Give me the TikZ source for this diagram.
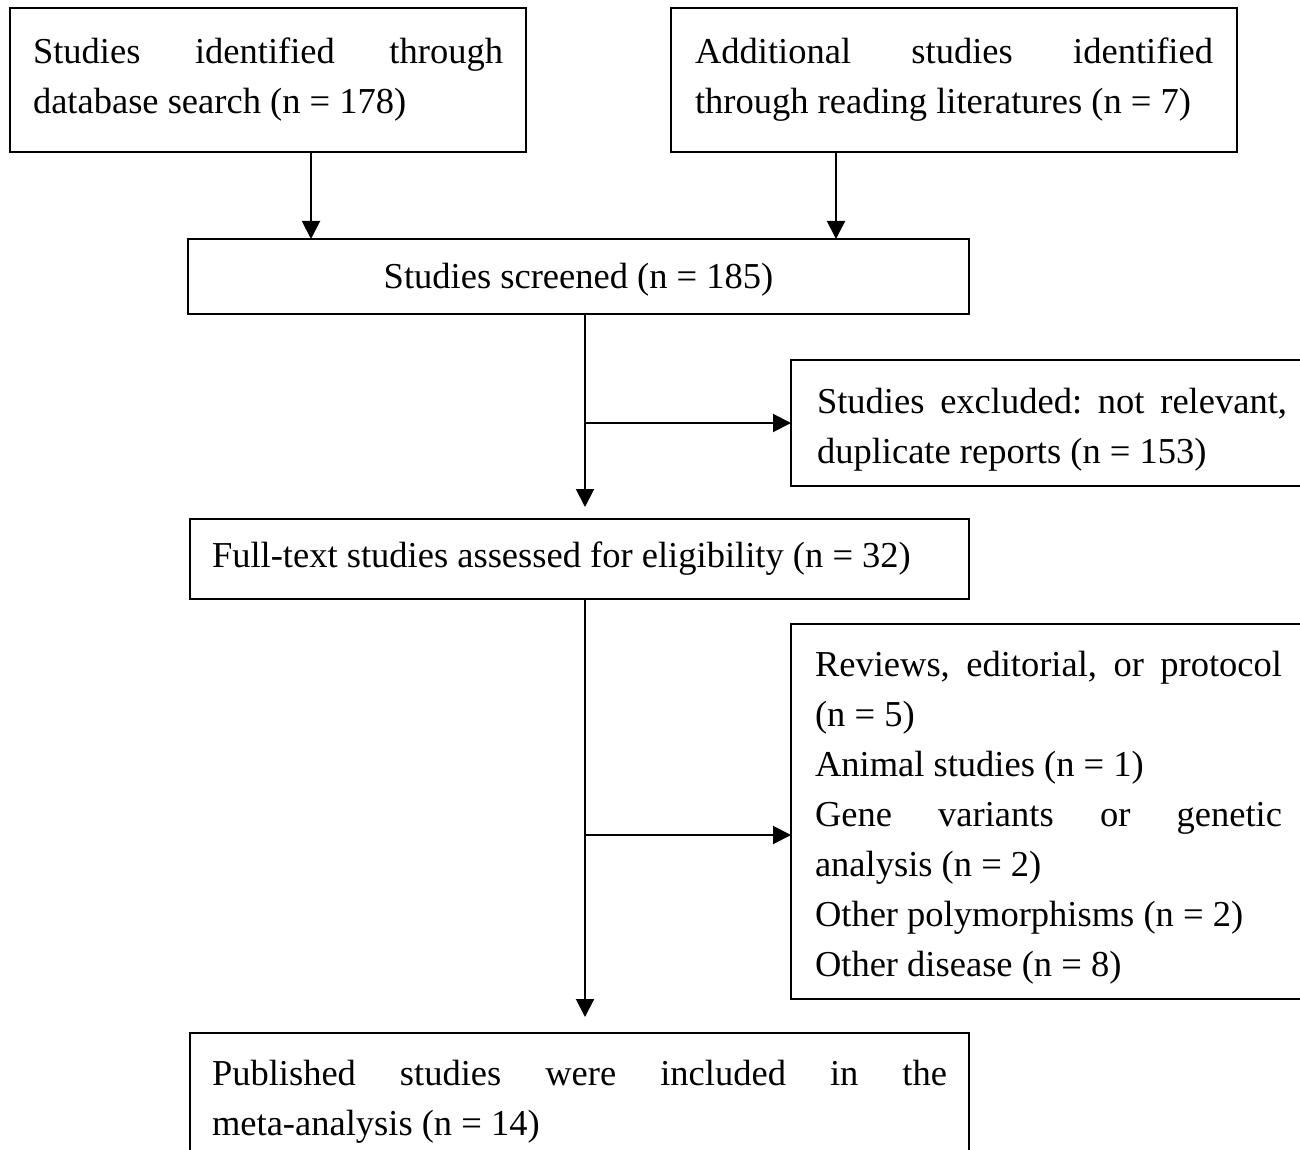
\documentclass[tikz,border=0pt]{standalone}
\usepackage{fontspec}
\setmainfont{Liberation Serif}
\usetikzlibrary{arrows.meta}
\tolerance=10000
\hbadness=10000
\hyphenpenalty=10000
\exhyphenpenalty=10000
\frenchspacing
\newcommand{\toppad}[1]{\rule{0pt}{#1pt}}
\begin{document}
\begin{tikzpicture}[x=1pt,y=-1pt]
\tikzset{
  box/.style={draw, line width=2pt, rectangle, inner ysep=0pt, outer sep=0pt,
    anchor=north west, font=\fontsize{36.5}{50}\selectfont\frenchspacing},
  jbox/.style={box, align=justify},
  arr/.style={line width=2pt, -{Triangle[length=18pt,width=18pt]}}
}
\useasboundingbox (0,0) rectangle (1300,1150);
\clip (0,0) rectangle (1300,1150);
\fill[white] (0,0) rectangle (1300,1150);

\node[jbox, text width=470pt, inner xsep=23pt, minimum height=144pt] (b1) at (10,8)
  {Studies identified through database search (n = 178)};
\node[jbox, text width=518pt, inner xsep=24pt, minimum height=144pt] (b2) at (671,8)
  {Additional studies identified through reading literatures (n = 7)};
\node[box, minimum width=781pt, minimum height=75pt, align=center] (b3) at (188,239)
  {\toppad{31}Studies screened (n = 185)};
\node[jbox, text width=470pt, inner xsep=26pt, minimum height=126pt] (e1) at (791,360)
  {\toppad{38}Studies excluded: not relevant, duplicate reports (n = 153)};
\node[jbox, text width=735pt, inner xsep=22pt, minimum height=80pt] (b4) at (190,519)
  {Full-text studies assessed for eligibility (n = 32)};
\node[jbox, text width=467pt, inner xsep=24pt, minimum height=375pt] (e2) at (791,624)
  {\toppad{37}Reviews, editorial, or protocol (n = 5)\par
   Animal studies (n = 1)\par
   Gene variants or genetic analysis (n = 2)\par
   Other polymorphisms (n = 2)\par
   Other disease (n = 8)};
\node[jbox, text width=735pt, inner xsep=22pt, minimum height=128pt] (b6) at (190,1033)
  {\toppad{35}Published studies were included in the meta-analysis (n = 14)};

\coordinate (x1) at (311,0);
\coordinate (x2) at (836,0);
\coordinate (xm) at (585,0);
\coordinate (y2) at (0,835);

\draw[arr] (b1.south -| x1) -- (b3.north -| x1);
\draw[arr] (b2.south -| x2) -- (b3.north -| x2);
\draw[arr, shorten >=12pt] (b3.south -| xm) -- (b4.north -| xm);
\draw[arr] (e1.west -| xm) -- (e1.west);
\draw[arr, shorten >=16pt] (b4.south -| xm) -- (b6.north -| xm);
\draw[arr] (y2 -| xm) -- (y2 -| e2.west);
\end{tikzpicture}
\end{document}
